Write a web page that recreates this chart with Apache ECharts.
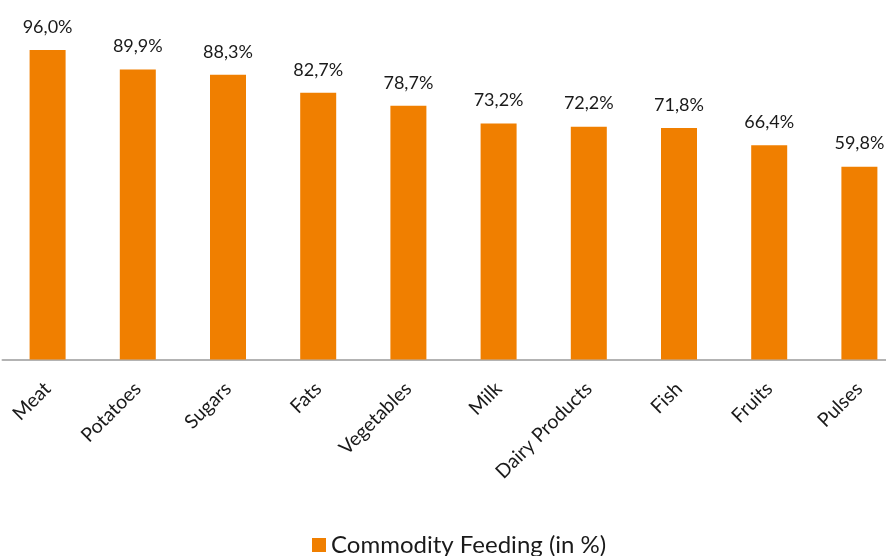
<!DOCTYPE html>
<html><head><meta charset="utf-8">
<script src="https://cdn.jsdelivr.net/npm/echarts@6/dist/echarts.min.js"></script>
<style>html,body{margin:0;padding:0;background:#fff;overflow:hidden;width:886px;height:556px}#c{width:910px;height:556px}</style>
</head><body><div id="c"></div>
<script>
const categories = ['Meat','Potatoes','Sugars','Fats','Vegetables','Milk','Dairy Products','Fish','Fruits','Pulses'];
const feeding = [96.0, 89.9, 88.3, 82.7, 78.7, 73.2, 72.2, 71.8, 66.4, 59.8];
const seriesName = 'Commodity Feeding (in %)';

const chart = echarts.init(document.getElementById('c'), null, {renderer:'canvas'});
chart.setOption({
  animation:false,
  textStyle:{fontFamily:'Lato'},
  grid:{left:2.5, width:902, top:37, height:322.5, containLabel:false},
  xAxis:{type:'category', data:categories,
    axisLine:{lineStyle:{color:'#b3b3b3', width:2}},
    axisTick:{show:false},
    axisLabel:{rotate:45, interval:0, margin:26, color:'#1a1a1a', fontSize:19.5, fontFamily:'Lato'}
  },
  yAxis:{type:'value', min:0, max:100, show:false, splitLine:{show:false}},
  legend:{bottom:-6, left:307, itemWidth:14, itemHeight:14, itemGap:6, icon:'rect',
    textStyle:{fontSize:24, color:'#1a1a1a', fontFamily:'Lato'}, data:[seriesName]},
  series:[{name:seriesName, type:'bar', data:feeding, barWidth:36,
    itemStyle:{color:'#F07F00'},
    label:{show:true, position:'top', distance:14, color:'#1a1a1a', fontSize:18, fontFamily:'Lato',
      formatter:p=>p.value.toFixed(1).replace('.',',')+'%'}
  }]
});
</script></body></html>
